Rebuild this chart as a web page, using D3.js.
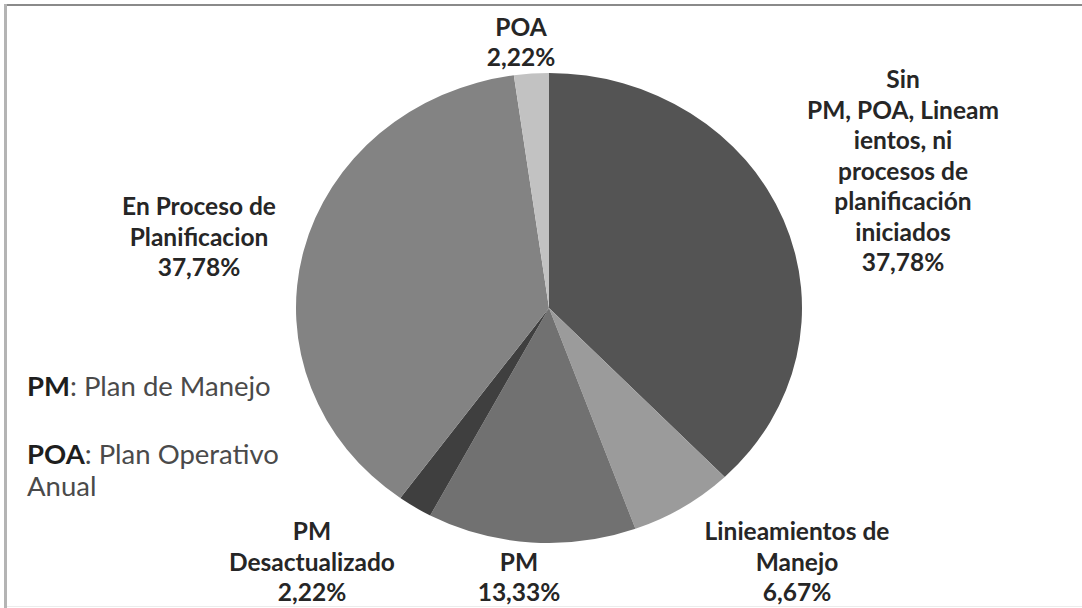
<!DOCTYPE html>
<html>
<head>
<meta charset="utf-8">
<script src="https://cdn.jsdelivr.net/npm/d3@7"></script>
<style>
  html, body { margin: 0; padding: 0; background: #fff; }
  svg { display: block; }
</style>
</head>
<body>
<svg id="chart" width="1082" height="608"></svg>
<script>
// ---- data ----
const categories = [
  "Sin PM, POA, Lineamientos, ni procesos de planificación iniciados",
  "Linieamientos de Manejo",
  "PM",
  "PM Desactualizado",
  "En Proceso de Planificacion",
  "POA"
];
const values = [37.78, 6.67, 13.33, 2.22, 37.78, 2.22];
const valueLabels = ["37,78%", "6,67%", "13,33%", "2,22%", "37,78%", "2,22%"];
const labelLines = [
  ["Sin", "PM, POA, Lineam", "ientos, ni", "procesos de", "planificación", "iniciados"],
  ["Linieamientos de", "Manejo"],
  ["PM"],
  ["PM", "Desactualizado"],
  ["En Proceso de", "Planificacion"],
  ["POA"]
];
const legendItems = [
  { abbr: "PM", text: ": Plan de Manejo", lines: [] },
  { abbr: "POA", text: ": Plan Operativo", lines: ["Anual"] }
];

// ---- layout / style ----
const colors = ["#545454", "#9b9b9b", "#717171", "#3f3f3f", "#838383", "#c2c2c2"];
const cx = 549, cy = 308, rx = 253, ry = 235;
const lineH = 30.5;
// label anchor (center x, baseline of last line)
const labelAnchor = [
  { x: 903, y: 271 },
  { x: 797, y: 601 },
  { x: 519, y: 601 },
  { x: 312, y: 601 },
  { x: 199, y: 276 },
  { x: 521, y: 66 }
];
const labelFont = "Lato, 'Open Sans', sans-serif";

const svg = d3.select("#chart");

// frame
svg.append("line").attr("x1", 4).attr("x2", 1082).attr("y1", 5).attr("y2", 5)
  .attr("stroke", "#8a8a8a").attr("stroke-width", 2);
svg.append("line").attr("x1", 5.5).attr("x2", 5.5).attr("y1", 4).attr("y2", 608)
  .attr("stroke", "#b4b4b4").attr("stroke-width", 3);
svg.append("line").attr("x1", 7).attr("x2", 1082).attr("y1", 606.5).attr("y2", 606.5)
  .attr("stroke", "#ececec").attr("stroke-width", 1);

const pie = d3.pie().sort(null).value(d => d).startAngle(0).endAngle(2 * Math.PI);
const arcs = pie(values);
const arc = d3.arc().innerRadius(0).outerRadius(rx);

const g = svg.append("g")
  .attr("transform", `translate(${cx},${cy}) scale(1,${ry / rx})`);

g.selectAll("path")
  .data(arcs)
  .join("path")
  .attr("d", arc)
  .attr("fill", (d, i) => colors[i]);

// labels
const lg = svg.append("g")
  .attr("font-family", labelFont)
  .attr("font-weight", "bold")
  .attr("font-size", 24.5)
  .attr("fill", "#262626")
  .attr("text-anchor", "middle");

arcs.forEach((a, i) => {
  const lines = labelLines[i].concat([valueLabels[i]]);
  const anc = labelAnchor[i];
  const t = lg.append("text").attr("x", anc.x).attr("y", anc.y - (lines.length - 1) * lineH);
  lines.forEach((ln, k) => {
    t.append("tspan").attr("x", anc.x).attr("dy", k === 0 ? 0 : lineH).text(ln);
  });
});

// legend text
const leg = svg.append("g")
  .attr("font-family", labelFont)
  .attr("font-size", 27.5)
  .attr("fill", "#4a4a4a");
const legY = [396, 464];
legendItems.forEach((it, i) => {
  const t = leg.append("text").attr("x", 27).attr("y", legY[i]);
  t.append("tspan").attr("font-weight", "bold").attr("fill", "#1e1e1e").text(it.abbr);
  t.append("tspan").text(it.text);
  it.lines.forEach((ln) => {
    t.append("tspan").attr("x", 27).attr("dy", 32).text(ln);
  });
});
</script>
</body>
</html>
